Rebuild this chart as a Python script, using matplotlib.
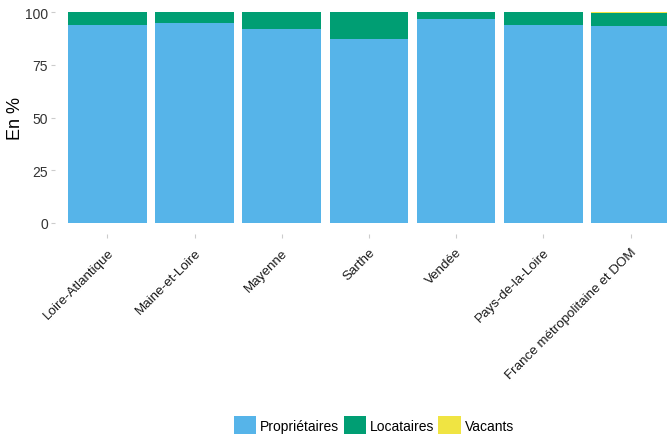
import matplotlib.pyplot as plt
import numpy as np
from matplotlib.patches import Patch

plt.rcParams['font.family'] = ['Liberation Sans', 'DejaVu Sans']

territoires = ["Loire-Atlantique", "Maine-et-Loire", "Mayenne", "Sarthe", "Vendée",
               "Pays-de-la-Loire", "France métropolitaine et DOM"]
proprietaires = [94.0, 94.8, 92.0, 87.2, 96.7, 94.0, 93.4]
locataires = [6.0, 5.2, 8.0, 12.8, 3.3, 6.0, 6.3]
vacants = [0.0, 0.0, 0.0, 0.0, 0.0, 0.0, 0.3]

series = ["Propriétaires", "Locataires", "Vacants"]
colors = ["#56B4E9", "#009E73", "#F0E442"]

W, H = 667, 439
fig = plt.figure(figsize=(W / 100, H / 100), dpi=100)
ax = fig.add_axes([55 / W, 1 - 234.5 / H, (667 - 55) / W, 232 / H])

x = np.arange(1, len(territoires) + 1)
bottom = np.zeros(len(x))
for vals, col in zip([proprietaires, locataires, vacants], colors):
    ax.bar(x, vals, width=0.9, bottom=bottom, color=col, linewidth=0)
    bottom += np.array(vals)

ax.set_xlim(0.4, 0.4 + 612 / 87.2)
ax.set_ylim(-5, 105)
ax.set_yticks([0, 25, 50, 75, 100])
ax.set_xticks(x)
ax.set_xticklabels(territoires, rotation=45, ha='right', rotation_mode='anchor',
                   fontsize=9.6, color='#1a1a1a')
ax.tick_params(axis='y', labelsize=10, labelcolor='#333333', length=3, color='#cccccc', pad=2)
ax.tick_params(axis='x', length=3, color='#cccccc', pad=6)
for s in ax.spines.values():
    s.set_visible(False)
ax.set_ylabel("En %", fontsize=13)
ax.yaxis.set_label_coords(-31 / 612, 0.5)

handles = [Patch(facecolor=c, edgecolor='none') for c in colors]
fig.legend(handles, series, loc='center', bbox_to_anchor=(374 / W, 1 - 426 / H), ncol=3,
           frameon=False, fontsize=10, handlelength=1.6, handleheight=1.6,
           handletextpad=0.3, columnspacing=0.3)

fig.savefig("out.png", dpi=100)
